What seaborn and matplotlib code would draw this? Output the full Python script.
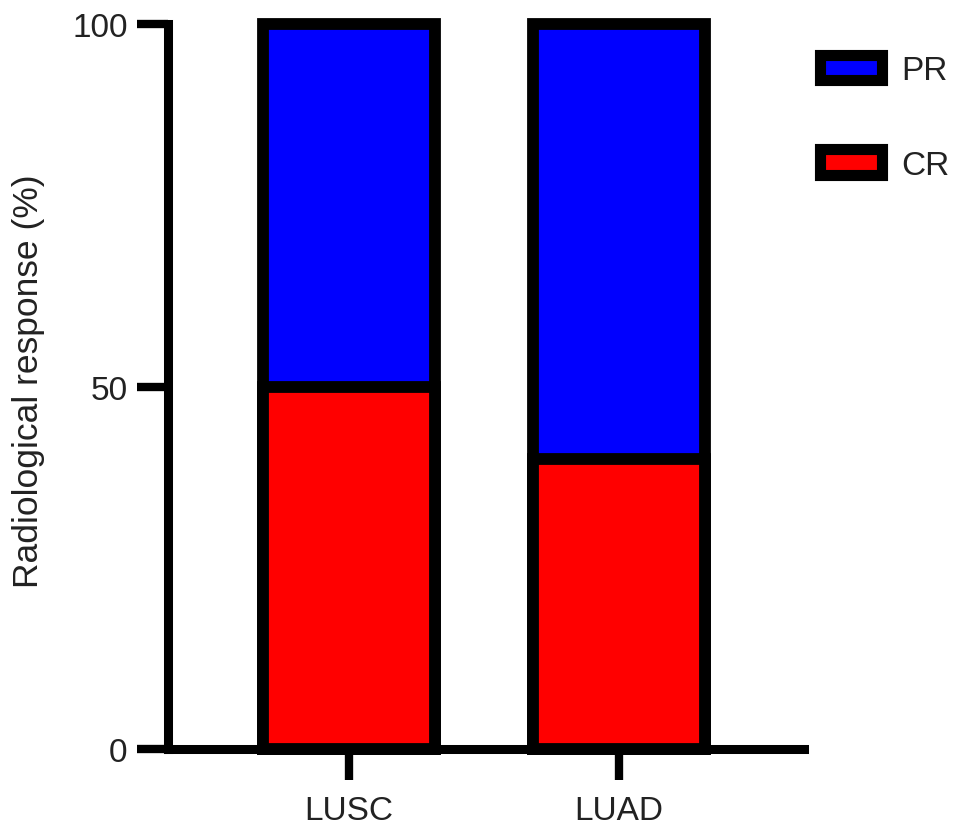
import matplotlib
matplotlib.use("Agg")
import matplotlib.pyplot as plt
import matplotlib.patches as mpatches
import pandas as pd
import seaborn as sns

# -------- data --------
groups = ["LUSC", "LUAD"]
cr_values = [50, 40]   # complete response (%)
pr_values = [50, 60]   # partial response (%)
series_names = ["PR", "CR"]
yticks = [0, 50, 100]

PR_COLOR = "#0000FF"
CR_COLOR = "#FF0000"

df = pd.DataFrame({"group": groups, "CR": cr_values, "PR": pr_values})
df["total"] = df["CR"] + df["PR"]

# -------- plotting --------
sns.set_theme(style="white")
plt.rcParams["font.family"] = ["Liberation Sans", "DejaVu Sans"]

fig = plt.figure(figsize=(9.69, 8.37), dpi=100)
ax = fig.add_axes([168 / 969, 1 - 750 / 837, (804 - 168) / 969, (750 - 25) / 837])

bar_kw = dict(width=0.64, edgecolor="black", linewidth=8.5, saturation=1, ax=ax)
sns.barplot(data=df, x="group", y="total", color=PR_COLOR, **bar_kw)
sns.barplot(data=df, x="group", y="CR", color=CR_COLOR, **bar_kw)
for p in ax.patches:
    p.set_clip_on(False)

ax.set_xlim(-0.67, 1.685)
ax.set_ylim(0, 100)
ax.set_yticks(yticks)

for side in ["top", "right"]:
    ax.spines[side].set_visible(False)
for side in ["left", "bottom"]:
    ax.spines[side].set_linewidth(6.5)
    ax.spines[side].set_color("black")
    ax.spines[side].set_capstyle("projecting")

ax.tick_params(axis="both", which="major", direction="out", length=22,
               width=6, colors="black", labelsize=24, labelcolor="#222222")
ax.tick_params(axis="y", pad=7, left=True)
ax.tick_params(axis="x", pad=11, bottom=True)

ax.set_xlabel("")
ax.set_ylabel("Radiological response (%)", fontsize=25.5, color="#222222")
ax.yaxis.label.set_va("center")
ax.yaxis.set_label_coords(-0.22, 0.509)

handles = [
    mpatches.Patch(facecolor=PR_COLOR, edgecolor="black", linewidth=8, label=series_names[0]),
    mpatches.Patch(facecolor=CR_COLOR, edgecolor="black", linewidth=8, label=series_names[1]),
]
fig.legend(handles=handles, loc="upper left", bbox_to_anchor=(820 / 969, 1 - 56 / 837),
           frameon=False, fontsize=24, handlelength=1.85, handleheight=0.78,
           handletextpad=0.6, labelspacing=1.9, borderpad=0, borderaxespad=0,
           labelcolor="#222222")

fig.savefig("out.png", dpi=100)
